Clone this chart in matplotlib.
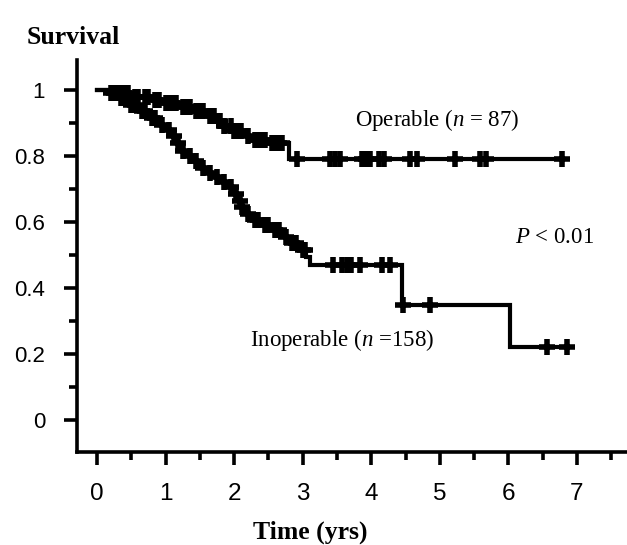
import numpy as np
import matplotlib
matplotlib.use("Agg")
import matplotlib.pyplot as plt
from matplotlib.ticker import MultipleLocator

plt.rcParams['mathtext.fontset'] = 'custom'
plt.rcParams['mathtext.rm'] = 'Liberation Serif'
plt.rcParams['mathtext.it'] = 'Liberation Serif:italic'

# ---- data ----
op_times = [0.0, 0.3, 0.5, 0.8, 1.0, 1.2, 1.4, 1.6, 1.75, 1.85, 2.0, 2.15, 2.3, 2.5, 2.8, 6.8]
op_surv = [1.0, 0.99, 0.98, 0.97, 0.96, 0.95, 0.935, 0.92, 0.905, 0.89, 0.875, 0.862, 0.85, 0.84, 0.79, 0.79]
op_cens = [0.3, 0.35, 0.4, 0.45, 0.55, 0.6, 0.7, 0.75, 0.85, 0.9, 1.0, 1.05, 1.1, 1.15,
           1.25, 1.3, 1.35, 1.45, 1.5, 1.55, 1.65, 1.7, 1.8, 1.85, 1.95, 2.0,
           2.05, 2.1, 2.2, 2.3, 2.35, 2.4, 2.45, 2.55, 2.6, 2.65, 2.7, 2.92, 3.4, 3.47, 3.55,
           3.86, 3.92, 3.98, 4.12, 4.18, 4.56, 4.66, 5.22, 5.58, 5.68, 6.78]

in_times = [0.0, 0.15, 0.3, 0.45, 0.6, 0.75, 0.9, 1.0, 1.1, 1.15, 1.2, 1.3, 1.4, 1.5, 1.6,
            1.7, 1.8, 1.9, 2.0, 2.05, 2.1, 2.15, 2.25, 2.4, 2.55, 2.7, 2.8, 2.95, 3.05,
            3.1, 4.45, 6.02, 6.85]
in_surv = [1.0, 0.99, 0.975, 0.955, 0.935, 0.915, 0.895, 0.88, 0.86, 0.84, 0.815, 0.80,
           0.785, 0.765, 0.75, 0.735, 0.72, 0.705, 0.685, 0.665, 0.645, 0.625, 0.605,
           0.59, 0.575, 0.555, 0.535, 0.515, 0.495, 0.47, 0.35, 0.22, 0.22]
in_cens = [0.2, 0.25, 0.35, 0.4, 0.5, 0.55, 0.65, 0.7, 0.8, 0.85, 0.95, 1.05, 1.12, 1.18,
           1.25, 1.35, 1.45, 1.55, 1.65, 1.75, 1.85, 1.95, 2.02, 2.08, 2.12, 2.2, 2.3,
           2.35, 2.45, 2.5, 2.6, 2.65, 2.75, 2.85, 2.9, 3.0,
           3.03, 3.44, 3.58, 3.64, 3.7, 3.83, 4.15, 4.27, 4.47, 4.85, 6.56, 6.85]

x_ticks = [0, 1, 2, 3, 4, 5, 6, 7]
y_ticks = [0, 0.2, 0.4, 0.6, 0.8, 1]
y_ticklabels = ['0', '0.2', '0.4', '0.6', '0.8', '1']


def step_value(times, surv, t):
    idx = np.searchsorted(times, t, side='right') - 1
    return np.asarray(surv)[idx]


W, H = 627, 545
fig = plt.figure(figsize=(W / 100, H / 100), dpi=100)
ax = fig.add_axes([77 / W, (H - 452) / H, (627 - 77) / W, (452 - 60) / H])

lw = 3.0
for times, surv, cens in [(op_times, op_surv, op_cens), (in_times, in_surv, in_cens)]:
    ax.step(times, surv, where='post', color='black', lw=lw, solid_joinstyle='miter')
    ax.plot(cens, step_value(times, surv, cens), ls='none', marker='+',
            ms=12, mew=4.0, color='black')

ax.set_xlim(-0.292, 7.73)
ax.set_ylim(-0.097, 1.091)

for s in ['top', 'right']:
    ax.spines[s].set_visible(False)
for s in ['left', 'bottom']:
    ax.spines[s].set_linewidth(2.6)

ax.set_xticks(x_ticks)
ax.set_xticklabels([str(v) for v in x_ticks])
ax.set_yticks(y_ticks)
ax.set_yticklabels(y_ticklabels)
ax.xaxis.set_minor_locator(MultipleLocator(0.5))
ax.yaxis.set_minor_locator(MultipleLocator(0.1))
ax.tick_params(which='major', direction='out', length=9.5, width=2.6)
ax.tick_params(which='minor', direction='out', length=5.5, width=2.6)
ax.tick_params(axis='y', which='major', labelsize=16, pad=13.5)
ax.tick_params(axis='x', which='major', labelsize=17.5, pad=13)
for lab in ax.get_xticklabels() + ax.get_yticklabels():
    lab.set_family('Liberation Sans')

ax.text(3.76, 0.909, r'Operable ($\mathit{n}$ = 87)', ha='left', va='center',
        fontsize=16.5, family='Liberation Serif')
ax.text(6.09, 0.552, r'$\mathit{P}$ < 0.01', ha='left', va='center',
        fontsize=16.5, family='Liberation Serif')
ax.text(2.23, 0.242, r'Inoperable ($\mathit{n}$ =158)', ha='left', va='center',
        fontsize=16.5, family='Liberation Serif')

fig.text(27 / W, 1 - 37 / H, 'Survival', ha='left', va='center',
         fontsize=18.5, fontweight='bold', family='Liberation Serif')
fig.text(310 / W, 1 - 532 / H, 'Time (yrs)', ha='center', va='center',
         fontsize=18.5, fontweight='bold', family='Liberation Serif')

fig.savefig('out.png', dpi=100)
